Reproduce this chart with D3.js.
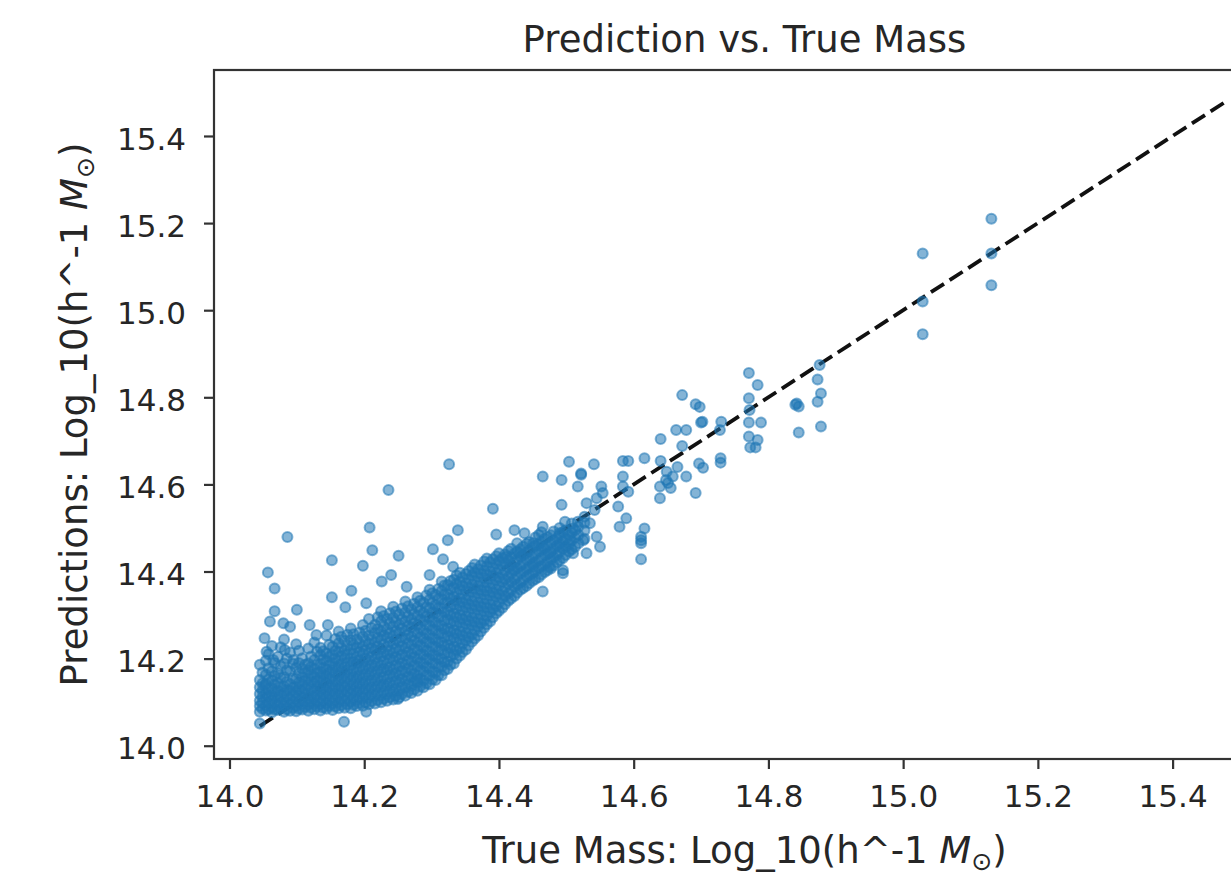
<!DOCTYPE html>
<html>
<head>
<meta charset="utf-8">
<script src="https://cdn.jsdelivr.net/npm/d3@7"></script>
<style>
  body { margin: 0; background: #fff; }
  text { font-family: "DejaVu Sans", sans-serif; fill: #262626; }
</style>
</head>
<body>
<svg id="chart"></svg>
<script>
// --- DATA (log10 masses) ---
const xTicks = [14.0, 14.2, 14.4, 14.6, 14.8, 15.0, 15.2, 15.4];
const yTicks = [14.0, 14.2, 14.4, 14.6, 14.8, 15.0, 15.2, 15.4];
const oneToOne = [14.045, 15.48];

// dense band at low mass: [true mass, [predictions...]]
const denseCore = [
  [14.045, [14.078, 14.091, 14.103, 14.119, 14.134, 14.151, 14.186]],
  [14.054, [14.081, 14.093, 14.109, 14.121, 14.142, 14.163, 14.195]],
  [14.063, [14.077, 14.088, 14.104, 14.116, 14.132, 14.149, 14.171, 14.229]],
  [14.072, [14.082, 14.094, 14.111, 14.126, 14.144, 14.167, 14.204]],
  [14.081, [14.078, 14.092, 14.105, 14.121, 14.136, 14.158, 14.189, 14.244]],
  [14.090, [14.080, 14.095, 14.108, 14.126, 14.141, 14.171, 14.214]],
  [14.099, [14.079, 14.091, 14.107, 14.122, 14.135, 14.154, 14.179, 14.233]],
  [14.108, [14.083, 14.096, 14.110, 14.125, 14.141, 14.157, 14.177, 14.201]],
  [14.117, [14.080, 14.094, 14.107, 14.121, 14.139, 14.155, 14.173, 14.189, 14.223]],
  [14.126, [14.084, 14.097, 14.112, 14.126, 14.143, 14.158, 14.176, 14.197, 14.237]],
  [14.135, [14.081, 14.096, 14.109, 14.125, 14.138, 14.156, 14.170, 14.188, 14.208, 14.225]],
  [14.144, [14.085, 14.098, 14.114, 14.128, 14.144, 14.160, 14.175, 14.195, 14.212, 14.253]],
  [14.153, [14.082, 14.097, 14.110, 14.126, 14.140, 14.158, 14.174, 14.190, 14.209, 14.227]],
  [14.162, [14.086, 14.100, 14.116, 14.130, 14.147, 14.161, 14.180, 14.195, 14.216, 14.235, 14.262]],
  [14.171, [14.087, 14.103, 14.117, 14.134, 14.148, 14.166, 14.181, 14.201, 14.218, 14.241]],
  [14.180, [14.086, 14.101, 14.118, 14.132, 14.150, 14.165, 14.184, 14.200, 14.221, 14.243, 14.269]],
  [14.189, [14.091, 14.105, 14.122, 14.136, 14.154, 14.170, 14.188, 14.204, 14.225, 14.244]],
  [14.198, [14.092, 14.109, 14.123, 14.141, 14.156, 14.175, 14.191, 14.211, 14.228, 14.251, 14.277]],
  [14.207, [14.095, 14.110, 14.127, 14.142, 14.161, 14.176, 14.196, 14.213, 14.234, 14.253, 14.291]],
  [14.216, [14.097, 14.114, 14.129, 14.148, 14.163, 14.183, 14.199, 14.220, 14.237, 14.259, 14.278]],
  [14.225, [14.100, 14.116, 14.134, 14.149, 14.169, 14.185, 14.205, 14.222, 14.244, 14.262, 14.286, 14.309]],
  [14.234, [14.103, 14.118, 14.137, 14.153, 14.173, 14.189, 14.210, 14.227, 14.249, 14.267, 14.291]],
  [14.243, [14.106, 14.124, 14.139, 14.159, 14.175, 14.196, 14.213, 14.234, 14.252, 14.274, 14.294, 14.319]],
  [14.252, [14.111, 14.126, 14.146, 14.162, 14.182, 14.199, 14.220, 14.238, 14.260, 14.278, 14.301]],
  [14.261, [14.115, 14.133, 14.149, 14.169, 14.186, 14.207, 14.224, 14.246, 14.264, 14.286, 14.306, 14.331]],
  [14.270, [14.121, 14.137, 14.157, 14.173, 14.194, 14.211, 14.232, 14.250, 14.272, 14.290, 14.313]],
  [14.279, [14.126, 14.145, 14.161, 14.182, 14.199, 14.220, 14.237, 14.259, 14.277, 14.299, 14.318, 14.341]],
  [14.288, [14.134, 14.150, 14.171, 14.188, 14.209, 14.226, 14.247, 14.265, 14.287, 14.305, 14.328]],
  [14.297, [14.141, 14.161, 14.178, 14.199, 14.216, 14.237, 14.254, 14.276, 14.294, 14.316, 14.335, 14.358]],
  [14.306, [14.151, 14.168, 14.189, 14.206, 14.227, 14.244, 14.265, 14.283, 14.305, 14.323, 14.346]],
  [14.315, [14.162, 14.182, 14.199, 14.220, 14.237, 14.258, 14.275, 14.297, 14.315, 14.337, 14.355, 14.377]],
  [14.324, [14.176, 14.193, 14.214, 14.231, 14.252, 14.269, 14.290, 14.307, 14.329, 14.347, 14.369]],
  [14.333, [14.189, 14.210, 14.227, 14.248, 14.265, 14.286, 14.303, 14.324, 14.341, 14.363, 14.381]],
  [14.342, [14.207, 14.224, 14.245, 14.262, 14.283, 14.300, 14.321, 14.338, 14.359, 14.376, 14.397]],
  [14.351, [14.221, 14.242, 14.259, 14.280, 14.297, 14.318, 14.335, 14.356, 14.373, 14.394]],
  [14.360, [14.239, 14.256, 14.277, 14.294, 14.315, 14.332, 14.353, 14.370, 14.391, 14.408]],
  [14.369, [14.253, 14.274, 14.291, 14.312, 14.329, 14.350, 14.367, 14.388, 14.405]],
  [14.378, [14.271, 14.288, 14.309, 14.326, 14.347, 14.364, 14.385, 14.402, 14.423]],
  [14.387, [14.286, 14.307, 14.324, 14.345, 14.362, 14.383, 14.400, 14.421]],
  [14.396, [14.304, 14.321, 14.342, 14.359, 14.380, 14.397, 14.418, 14.435]],
  [14.405, [14.317, 14.338, 14.355, 14.376, 14.393, 14.414, 14.431]],
  [14.414, [14.333, 14.350, 14.371, 14.388, 14.409, 14.426, 14.447]],
  [14.423, [14.344, 14.365, 14.382, 14.403, 14.420, 14.441]],
  [14.432, [14.358, 14.375, 14.396, 14.413, 14.434, 14.451]],
  [14.441, [14.367, 14.388, 14.405, 14.426, 14.443, 14.464]],
  [14.450, [14.379, 14.396, 14.417, 14.434, 14.455]],
  [14.459, [14.387, 14.408, 14.425, 14.446, 14.463, 14.484]],
  [14.468, [14.399, 14.416, 14.437, 14.454, 14.475]],
  [14.477, [14.407, 14.428, 14.445, 14.466, 14.483]],
  [14.486, [14.421, 14.438, 14.459, 14.476]],
  [14.495, [14.431, 14.452, 14.469, 14.490]],
  [14.504, [14.446, 14.463, 14.484]],
  [14.513, [14.457, 14.478, 14.495]]
];

// second layer of the same band, read between the columns above
const denseFill = [
  [14.049, [14.085, 14.099, 14.112, 14.127, 14.143, 14.168]],
  [14.058, [14.084, 14.098, 14.114, 14.131, 14.152, 14.178, 14.210]],
  [14.067, [14.083, 14.097, 14.110, 14.124, 14.140, 14.160, 14.190]],
  [14.076, [14.086, 14.100, 14.117, 14.135, 14.156, 14.182, 14.226]],
  [14.085, [14.084, 14.098, 14.113, 14.128, 14.147, 14.173, 14.200]],
  [14.094, [14.087, 14.101, 14.117, 14.133, 14.155, 14.188]],
  [14.103, [14.085, 14.099, 14.114, 14.129, 14.145, 14.166, 14.190, 14.218]],
  [14.112, [14.089, 14.103, 14.117, 14.132, 14.149, 14.167, 14.186]],
  [14.121, [14.087, 14.100, 14.114, 14.130, 14.147, 14.164, 14.181, 14.205]],
  [14.130, [14.090, 14.104, 14.119, 14.134, 14.150, 14.167, 14.186, 14.216]],
  [14.139, [14.088, 14.102, 14.117, 14.131, 14.147, 14.163, 14.179, 14.198, 14.217]],
  [14.148, [14.091, 14.106, 14.121, 14.136, 14.152, 14.168, 14.185, 14.204, 14.232]],
  [14.157, [14.090, 14.104, 14.118, 14.133, 14.149, 14.166, 14.182, 14.200, 14.218, 14.245]],
  [14.166, [14.093, 14.108, 14.123, 14.138, 14.155, 14.171, 14.188, 14.206, 14.225, 14.250]],
  [14.175, [14.095, 14.110, 14.125, 14.141, 14.157, 14.174, 14.191, 14.210, 14.230, 14.255]],
  [14.184, [14.094, 14.109, 14.126, 14.141, 14.158, 14.175, 14.192, 14.211, 14.232, 14.256]],
  [14.193, [14.098, 14.113, 14.130, 14.145, 14.162, 14.179, 14.197, 14.215, 14.235, 14.260]],
  [14.202, [14.100, 14.117, 14.132, 14.149, 14.165, 14.183, 14.200, 14.220, 14.240, 14.264]],
  [14.211, [14.102, 14.118, 14.135, 14.151, 14.170, 14.186, 14.205, 14.224, 14.244, 14.270]],
  [14.220, [14.105, 14.122, 14.138, 14.156, 14.173, 14.191, 14.210, 14.228, 14.248, 14.268, 14.295]],
  [14.229, [14.108, 14.125, 14.141, 14.159, 14.177, 14.195, 14.213, 14.233, 14.253, 14.274, 14.298]],
  [14.238, [14.111, 14.128, 14.145, 14.163, 14.181, 14.200, 14.218, 14.238, 14.258, 14.280, 14.304]],
  [14.247, [14.115, 14.132, 14.149, 14.167, 14.185, 14.204, 14.223, 14.243, 14.263, 14.284, 14.308]],
  [14.256, [14.119, 14.136, 14.154, 14.172, 14.190, 14.209, 14.229, 14.248, 14.269, 14.290, 14.315]],
  [14.265, [14.124, 14.141, 14.159, 14.178, 14.196, 14.215, 14.235, 14.255, 14.275, 14.296, 14.320]],
  [14.274, [14.129, 14.147, 14.165, 14.184, 14.203, 14.222, 14.241, 14.261, 14.281, 14.302, 14.326]],
  [14.283, [14.136, 14.154, 14.173, 14.191, 14.210, 14.230, 14.249, 14.269, 14.289, 14.310, 14.333]],
  [14.292, [14.143, 14.162, 14.181, 14.199, 14.218, 14.238, 14.257, 14.277, 14.297, 14.318, 14.345]],
  [14.301, [14.152, 14.170, 14.190, 14.208, 14.228, 14.247, 14.266, 14.286, 14.306, 14.327, 14.350]],
  [14.310, [14.162, 14.181, 14.200, 14.218, 14.238, 14.257, 14.276, 14.296, 14.316, 14.337, 14.360]],
  [14.319, [14.173, 14.192, 14.211, 14.230, 14.249, 14.268, 14.287, 14.307, 14.327, 14.347, 14.368]],
  [14.328, [14.186, 14.205, 14.224, 14.243, 14.262, 14.281, 14.300, 14.319, 14.339, 14.359, 14.378]],
  [14.337, [14.200, 14.219, 14.238, 14.257, 14.276, 14.295, 14.314, 14.333, 14.352, 14.372, 14.391]],
  [14.346, [14.215, 14.234, 14.253, 14.272, 14.291, 14.310, 14.329, 14.348, 14.367, 14.386]],
  [14.355, [14.230, 14.249, 14.268, 14.287, 14.306, 14.325, 14.344, 14.363, 14.382, 14.401]],
  [14.364, [14.246, 14.265, 14.284, 14.303, 14.322, 14.341, 14.360, 14.379, 14.398, 14.416]],
  [14.373, [14.262, 14.281, 14.300, 14.319, 14.338, 14.357, 14.376, 14.395, 14.414]],
  [14.382, [14.279, 14.298, 14.317, 14.336, 14.355, 14.374, 14.393, 14.412, 14.430]],
  [14.391, [14.295, 14.314, 14.333, 14.352, 14.371, 14.390, 14.409, 14.428]],
  [14.400, [14.310, 14.329, 14.348, 14.367, 14.386, 14.405, 14.424, 14.442]],
  [14.409, [14.325, 14.344, 14.363, 14.382, 14.401, 14.420, 14.439]],
  [14.418, [14.338, 14.357, 14.376, 14.395, 14.414, 14.433, 14.452]],
  [14.427, [14.351, 14.370, 14.389, 14.408, 14.427, 14.446, 14.465]],
  [14.436, [14.362, 14.381, 14.400, 14.419, 14.438, 14.457]],
  [14.445, [14.373, 14.392, 14.411, 14.430, 14.449, 14.468]],
  [14.454, [14.383, 14.402, 14.421, 14.440, 14.459, 14.478]],
  [14.463, [14.393, 14.412, 14.431, 14.450, 14.469, 14.490]],
  [14.472, [14.403, 14.422, 14.441, 14.460, 14.479]],
  [14.481, [14.414, 14.433, 14.452, 14.471, 14.492]],
  [14.490, [14.426, 14.445, 14.464, 14.483, 14.500]],
  [14.499, [14.438, 14.457, 14.476, 14.495]],
  [14.508, [14.451, 14.470, 14.489, 14.510]],
  [14.518, [14.465, 14.484, 14.503]],
  [14.527, [14.475, 14.494, 14.512]]
];

// isolated points around the low-mass band
const lowMassScatter = [
  [14.236, 14.587], [14.086, 14.479], [14.208, 14.501], [14.212, 14.449], [14.152, 14.426],
  [14.198, 14.413], [14.251, 14.436], [14.057, 14.398], [14.067, 14.361], [14.226, 14.377],
  [14.240, 14.392], [14.181, 14.356], [14.152, 14.341], [14.203, 14.327], [14.172, 14.318],
  [14.067, 14.309], [14.100, 14.312], [14.060, 14.285], [14.052, 14.247], [14.263, 14.365],
  [14.090, 14.273], [14.080, 14.281], [14.119, 14.277], [14.146, 14.277], [14.129, 14.254],
  [14.055, 14.216], [14.065, 14.197], [14.082, 14.220], [14.095, 14.197], [14.053, 14.139],
  [14.326, 14.646], [14.391, 14.544], [14.339, 14.495], [14.324, 14.472], [14.396, 14.485],
  [14.302, 14.451], [14.317, 14.428], [14.297, 14.392], [14.332, 14.411],
  [14.278, 14.151], [14.250, 14.107], [14.203, 14.078], [14.170, 14.055], [14.045, 14.051],
  [14.465, 14.354], [14.495, 14.396]
];

// 14.4 - 14.75
const midMass = [
  [14.672, 14.805], [14.692, 14.784], [14.700, 14.742], [14.730, 14.744], [14.663, 14.725],
  [14.678, 14.725], [14.640, 14.704], [14.672, 14.688], [14.697, 14.648], [14.729, 14.660],
  [14.616, 14.660], [14.584, 14.654], [14.592, 14.654], [14.640, 14.654], [14.649, 14.629],
  [14.658, 14.618], [14.678, 14.618], [14.639, 14.595], [14.651, 14.603], [14.692, 14.580],
  [14.639, 14.568], [14.584, 14.618], [14.584, 14.595], [14.592, 14.583], [14.577, 14.549],
  [14.589, 14.522], [14.579, 14.503], [14.616, 14.499], [14.611, 14.480], [14.611, 14.465],
  [14.611, 14.428], [14.611, 14.472], [14.552, 14.595], [14.554, 14.580], [14.545, 14.568],
  [14.530, 14.557], [14.542, 14.541], [14.527, 14.526], [14.517, 14.514], [14.535, 14.511],
  [14.510, 14.499], [14.498, 14.514], [14.493, 14.553], [14.490, 14.488], [14.505, 14.472],
  [14.525, 14.472], [14.545, 14.480], [14.550, 14.457], [14.530, 14.442], [14.510, 14.442],
  [14.490, 14.457], [14.475, 14.442], [14.465, 14.457], [14.465, 14.503], [14.423, 14.495],
  [14.438, 14.488], [14.465, 14.618], [14.493, 14.610], [14.517, 14.595], [14.522, 14.622],
  [14.504, 14.652], [14.541, 14.646], [14.451, 14.465], [14.431, 14.442], [14.411, 14.434],
  [14.475, 14.411], [14.451, 14.411], [14.421, 14.403], [14.495, 14.403], [14.522, 14.625],
  [14.648, 14.610], [14.665, 14.640], [14.655, 14.592]
];

// 14.7 - 15.2
const highMass = [
  [14.771, 14.856], [14.784, 14.828], [14.771, 14.798], [14.772, 14.771], [14.771, 14.742],
  [14.789, 14.742], [14.771, 14.710], [14.784, 14.702], [14.773, 14.685], [14.781, 14.685],
  [14.842, 14.786], [14.845, 14.779], [14.840, 14.783], [14.845, 14.719],
  [14.876, 14.874], [14.873, 14.841], [14.878, 14.809], [14.873, 14.790], [14.878, 14.733],
  [14.702, 14.744], [14.728, 14.725], [14.698, 14.778], [14.729, 14.650], [14.703, 14.638],
  [15.131, 15.210], [15.131, 15.130], [15.131, 15.057],
  [15.029, 15.130], [15.029, 15.020], [15.029, 14.945]
];

// --- LAYOUT ---
const W = 1231, H = 877;
const plot = { left: 214, top: 70, width: 1061, height: 689 };

const svg = d3.select("#chart").attr("width", W).attr("height", H);
svg.append("rect").attr("width", W).attr("height", H).attr("fill", "#fff");

const x = d3.scaleLinear().domain([13.977, 15.552]).range([plot.left, plot.left + plot.width]);
const y = d3.scaleLinear().domain([13.9695, 15.5515]).range([plot.top + plot.height, plot.top]);

const points = denseCore.concat(denseFill)
  .flatMap(([t, preds]) => preds.map(p => [t, p]))
  .concat(lowMassScatter, midMass, highMass);

// 1:1 reference line (under the scatter)
svg.append("line")
  .attr("x1", x(oneToOne[0])).attr("y1", y(oneToOne[0]))
  .attr("x2", x(oneToOne[1])).attr("y2", y(oneToOne[1]))
  .attr("stroke", "#111").attr("stroke-width", 3.8)
  .attr("stroke-dasharray", "15.5,6.7");

svg.append("g").selectAll("circle")
  .data(points)
  .join("circle")
  .attr("cx", d => x(d[0]))
  .attr("cy", d => y(d[1]))
  .attr("r", 5)
  .attr("fill", "#1f77b4").attr("fill-opacity", 0.55)
  .attr("stroke", "#1f77b4").attr("stroke-opacity", 0.55)
  .attr("stroke-width", 2);

// axes
const xAxis = svg.append("g")
  .attr("transform", `translate(0,${plot.top + plot.height})`)
  .call(d3.axisBottom(x).tickValues(xTicks).tickFormat(d3.format(".1f")).tickSize(10).tickPadding(16));
const yAxis = svg.append("g")
  .attr("transform", `translate(${plot.left},0)`)
  .call(d3.axisLeft(y).tickValues(yTicks).tickFormat(d3.format(".1f")).tickSize(10).tickPadding(18));

[xAxis, yAxis].forEach(g => {
  g.select(".domain").remove();
  g.selectAll(".tick line").attr("stroke", "#333").attr("stroke-width", 2.2);
  g.selectAll(".tick text").attr("font-size", 31).attr("font-family", "DejaVu Sans").attr("fill", "#262626");
});
yAxis.selectAll(".tick text").attr("dy", "0.42em");

// spines (right spine lies outside the picture)
svg.append("rect")
  .attr("x", plot.left).attr("y", plot.top)
  .attr("width", plot.width).attr("height", plot.height)
  .attr("fill", "none").attr("stroke", "#333").attr("stroke-width", 2.2);

// title and labels
const cx = plot.left + plot.width / 2;
svg.append("text").attr("x", cx).attr("y", 52)
  .attr("text-anchor", "middle").attr("font-size", 37)
  .text("Prediction vs. True Mass");

function massLabel(sel, prefix) {
  sel.append("tspan").text(prefix + "Log_10(h^-1 ");
  sel.append("tspan").attr("font-style", "italic").text("M");
  sel.append("tspan").attr("font-size", 25).attr("dy", 7).text("⊙");
  sel.append("tspan").attr("dy", -7).text(")");
}

svg.append("text").attr("x", cx).attr("y", 863)
  .attr("text-anchor", "middle").attr("font-size", 37)
  .call(massLabel, "True Mass: ");

svg.append("text")
  .attr("transform", `translate(87,${plot.top + plot.height / 2}) rotate(-90)`)
  .attr("text-anchor", "middle").attr("font-size", 37)
  .call(massLabel, "Predictions: ");
</script>
</body>
</html>
